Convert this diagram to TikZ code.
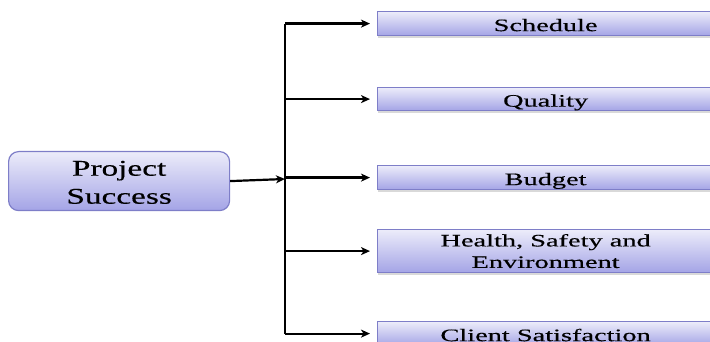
\documentclass[tikz,border=0pt]{standalone}
\usepackage{fontspec}
\setmainfont{Liberation Serif}
\newfontfamily\boxfont[FakeStretch=1.62,FakeBold=0.4]{Liberation Serif}
\newfontfamily\mainboxfont[FakeStretch=1.48,FakeBold=0.4]{Liberation Serif}
\usetikzlibrary{arrows.meta,shadows}
\definecolor{boxtop}{HTML}{ECECFA}
\definecolor{boxbot}{HTML}{A4A4E6}
\definecolor{boxline}{HTML}{7E7EC8}
\tikzset{
  goalbox/.style={draw=boxline, line width=1.2pt, top color=boxtop, bottom color=boxbot,
    anchor=north west, minimum width=336pt, inner sep=0pt, align=center,
    font=\boxfont\fontsize{17.5}{21.5}\selectfont,
    drop shadow={shadow xshift=0pt, shadow yshift=-2pt, fill=black!25, opacity=0.6}},
  onerow/.style={text height=15pt, text depth=0pt},
  mainbox/.style={draw=boxline, line width=1.2pt, top color=boxtop, bottom color=boxbot,
    rounded corners=10pt, anchor=north west, minimum width=221pt, minimum height=59pt,
    inner sep=0pt, align=center, font=\mainboxfont\fontsize{22.5}{28}\selectfont},
  arr/.style={line width=2.2pt, -{Stealth[length=9pt,width=8pt,inset=2.5pt]}},
  spine/.style={line width=2.2pt}
}
\begin{document}
\begin{tikzpicture}[x=1pt,y=-1pt]
\useasboundingbox (0,0) rectangle (710,342);
\clip (0,0) rectangle (710,342);
\node[mainbox] (ps) at (8,151) {\raisebox{0pt}[\dimexpr\height+3pt\relax][\dimexpr\depth-3pt\relax]{\begin{tabular}{@{}c@{}}Project\\Success\end{tabular}}};
\node[goalbox, onerow, minimum height=24pt] (sch) at (377,11) {Schedule};
\node[goalbox, onerow, minimum height=23pt] (qua) at (377,87) {Quality};
\node[goalbox, onerow, minimum height=24pt] (bud) at (377,165) {Budget};
\node[goalbox, minimum height=43pt] (hse) at (377,229) {Health, Safety and\\Environment};
\node[goalbox, onerow, minimum height=24pt] (cli) at (377,321) {Client Satisfaction};
\coordinate (sx) at (285,0);
\coordinate (hub) at (285,179);
\draw[arr] (ps.east) -- (hub);
\draw[spine] (sx |- sch.west) -- (sx |- cli.west);
\foreach \n in {sch,qua,bud,hse,cli}
  \draw[arr, shorten >=7pt] (sx |- \n.west) -- (\n.west);
\end{tikzpicture}
\end{document}
